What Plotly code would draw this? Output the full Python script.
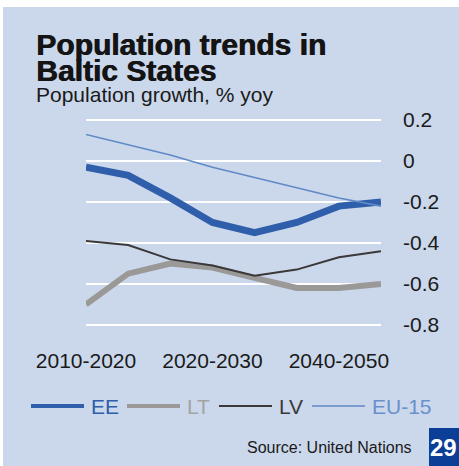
import plotly.graph_objects as go

# ---- data ----
periods = ["2010-2015", "2015-2020", "2020-2025", "2025-2030",
           "2030-2035", "2035-2040", "2040-2045", "2045-2050"]
ee = [-0.03, -0.07, -0.18, -0.30, -0.35, -0.30, -0.22, -0.20]
lt = [-0.70, -0.55, -0.50, -0.52, -0.57, -0.62, -0.62, -0.60]
lv = [-0.39, -0.41, -0.48, -0.51, -0.56, -0.53, -0.47, -0.44]
eu15 = [0.13, 0.08, 0.03, -0.03, -0.08, -0.13, -0.18, -0.22]
tick_index = [0, 3, 6]
tick_labels = ["2010-2020", "2020-2030", "2040-2050"]
y_ticks = [0.2, 0, -0.2, -0.4, -0.6, -0.8]
y_tick_labels = ["0.2", "0", "-0.2", "-0.4", "-0.6", "-0.8"]

series = [
    ("EE", ee, "#2f5eab", 7),
    ("LT", lt, "#9a9997", 6),
    ("LV", lv, "#3b3839", 2),
    ("EU-15", eu15, "#6089c8", 1.6),
]
legend_text_colors = {"EE": "#2f5eab", "LT": "#a3a3a3", "LV": "#3b3839", "EU-15": "#6a90cc"}
legend_line_widths = {"EE": 4, "LT": 4, "LV": 2.2, "EU-15": 1.6}

W, H = 459, 466
L, R, T, B = 86, 381, 116, 329   # plot area in pixels
BG = "#cbd7ea"
FONT = "Liberation Sans, Arial, sans-serif"

def px(x):
    return (x - L) / (R - L)

def py(y):
    return (B - y) / (B - T)

x_idx = list(range(len(periods)))
fig = go.Figure()
for name, vals, col, w in series:
    fig.add_trace(go.Scatter(x=x_idx, y=vals, mode="lines", name=name,
                             line=dict(color=col, width=w),
                             text=periods, showlegend=False))

shapes = [
    dict(type="rect", xref="paper", yref="paper", x0=px(3), x1=px(W + 2),
         y0=py(H + 2), y1=py(7), fillcolor=BG, line=dict(width=0), layer="below"),
    dict(type="rect", xref="paper", yref="paper", x0=px(429), x1=px(W + 2),
         y0=py(H + 2), y1=py(428), fillcolor="#0b3e97", line=dict(width=0), layer="above"),
]
annotations = []

# manual legend
leg_x = {"EE": 31, "LT": 127, "LV": 219, "EU-15": 312}
for name, vals, col, w in series:
    x0 = leg_x[name]
    shapes.append(dict(type="line", xref="paper", yref="paper",
                       x0=px(x0), x1=px(x0 + 53), y0=py(406), y1=py(406),
                       line=dict(color=col, width=legend_line_widths[name]), layer="above"))
    annotations.append(dict(text=name, xref="paper", yref="paper",
                            x=px(x0 + 58), y=py(406), xanchor="left", yanchor="middle",
                            showarrow=False,
                            font=dict(family=FONT, size=21, color=legend_text_colors[name])))

title_font = dict(family=FONT, size=30, color="#141414", weight="bold",
                  shadow="0.8px 0 0 #141414")
annotations += [
    dict(text="Population trends in", xref="paper", yref="paper", x=px(34), y=py(44),
         xanchor="left", yanchor="middle", showarrow=False, font=title_font),
    dict(text="Baltic States", xref="paper", yref="paper", x=px(34), y=py(70),
         xanchor="left", yanchor="middle", showarrow=False, font=title_font),
    dict(text="Population growth, % yoy", xref="paper", yref="paper", x=px(34), y=py(94),
         xanchor="left", yanchor="middle", showarrow=False,
         font=dict(family=FONT, size=21, color="#1a1a1a")),
    dict(text="Source: United Nations", xref="paper", yref="paper", x=px(414), y=py(447),
         xanchor="right", yanchor="middle", showarrow=False,
         font=dict(family=FONT, size=16, color="#1a1a1a")),
    dict(text="29", xref="paper", yref="paper", x=px(443), y=py(448),
         xanchor="center", yanchor="middle", showarrow=False,
         font=dict(family=FONT, size=24, color="white", weight="bold")),
]

fig.update_layout(
    width=W, height=H,
    margin=dict(l=L, r=W - R, t=T, b=H - B, pad=0),
    paper_bgcolor="white", plot_bgcolor="rgba(0,0,0,0)",
    showlegend=False,
    shapes=shapes, annotations=annotations,
    xaxis=dict(range=[0, len(periods) - 1], tickmode="array", tickvals=tick_index,
               ticktext=tick_labels, showgrid=False, zeroline=False, showline=False,
               ticks="", ticklabelstandoff=17,
               tickfont=dict(family=FONT, size=21, color="#1a1a1a")),
    yaxis=dict(range=[-0.82, 0.22], side="right", tickmode="array", tickvals=y_ticks,
               ticktext=y_tick_labels, showgrid=True, gridcolor="white", gridwidth=2,
               zeroline=False, showline=False, ticks="", ticklabelstandoff=21,
               tickfont=dict(family=FONT, size=21, color="#1a1a1a")),
)

fig.write_html("out.html", config={"displayModeBar": False},
               post_script="document.body.style.margin='0';")
